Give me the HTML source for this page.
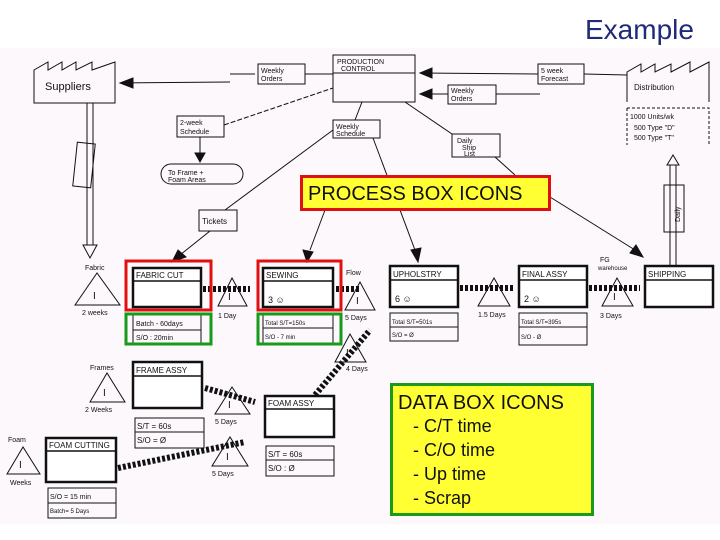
<!DOCTYPE html>
<html><head><meta charset="utf-8"><style>
html,body{margin:0;padding:0;background:#fff;}
svg{display:block}
text{font-family:"Liberation Sans",sans-serif;}
.h{font-family:"DejaVu Sans","Liberation Sans",sans-serif;font-size:9px;fill:#111}
</style></head><body>
<svg width="720" height="540" viewBox="0 0 720 540" xmlns="http://www.w3.org/2000/svg">
<rect width="720" height="540" fill="#fff"/>
<rect x="0" y="48" width="720" height="476" fill="#fcf8fc"/>
<text x="585" y="39" font-size="28" fill="#1f2a78">Example</text>
<g stroke="#111" fill="none" stroke-width="1">
<!-- suppliers -->
<path d="M34 103 V70 L48 62 V70 L62 62 V70 L76 62 V70 L92 62 V70 L115 62 V103 Z"/>
<!-- production control -->
<rect x="333" y="55" width="82" height="47"/><line x1="333" y1="73" x2="415" y2="73"/>
<rect x="258" y="64" width="47" height="20"/>
<rect x="538" y="64" width="46" height="20"/>
<rect x="448" y="85" width="48" height="19"/>
<!-- distribution -->
<path d="M627 102 V72 L641 64 V72 L655 64 V72 L671 64 V72 L690 62 V72 L709 62 V102"/>
<path d="M627 108 H709 V145" stroke-dasharray="3 2"/><line x1="627" y1="108" x2="627" y2="145" stroke-dasharray="3 2"/>
<rect x="177" y="116" width="47" height="21"/>
<rect x="333" y="120" width="47" height="18"/>
<rect x="452" y="134" width="48" height="23"/>
<rect x="161" y="164" width="82" height="20" rx="10"/>
<rect x="75" y="143" width="18" height="44" transform="rotate(6 84 165)"/>
<rect x="199" y="210" width="38" height="21"/>
<rect x="664" y="185" width="20" height="47"/>
<!-- arrows/lines -->
<line x1="305" y1="74" x2="333" y2="74"/><line x1="230" y1="74" x2="255" y2="74"/><line x1="120" y1="83" x2="230" y2="82"/>
<path d="M120 83 L133 78 V88 Z" fill="#111"/>
<line x1="420" y1="73" x2="538" y2="74"/><path d="M420 73 L432 68 V78 Z" fill="#111"/>
<line x1="584" y1="74" x2="627" y2="75"/>
<line x1="420" y1="94" x2="448" y2="94"/><path d="M420 94 L432 89 V99 Z" fill="#111"/>
<line x1="496" y1="94" x2="540" y2="94"/>
<line x1="224" y1="125" x2="333" y2="88" stroke-dasharray="5 2"/>
<line x1="200" y1="137" x2="200" y2="160"/><path d="M195 153 L205 153 L200 162 Z" fill="#111"/>
<line x1="355" y1="120" x2="362" y2="102"/>
<line x1="405" y1="102" x2="452" y2="134"/>
<line x1="333" y1="130" x2="225" y2="210"/>
<line x1="210" y1="231" x2="180" y2="255"/><path d="M172 262 L178 250 L186 257 Z" fill="#111"/>
<line x1="325" y1="210" x2="310" y2="250"/><path d="M307 262 L303 250 L313 252 Z" fill="#111"/>
<line x1="373" y1="138" x2="415" y2="250"/><path d="M418 262 L411 250 L421 248 Z" fill="#111"/>
<line x1="550" y1="197" x2="635" y2="250"/><path d="M643 257 L630 253 L636 245 Z" fill="#111"/>
<line x1="495" y1="157" x2="515" y2="175"/>
<path d="M87 103 V245 M93 103 V245 M83 245 L90 258 L97 245 Z"/>
<path d="M670 266 V185 M676 266 V185 M667 165 L673 155 L679 165 Z M670 165 V185 M676 165 V185"/>
<!-- triangles -->
<path d="M75 305 L97 273 L120 305 Z"/><path d="M218 306 L232 278 L247 306 Z"/>
<path d="M345 310 L360 282 L375 310 Z"/><path d="M478 306 L494 278 L510 306 Z"/>
<path d="M602 306 L617 278 L633 306 Z"/><path d="M335 362 L350 334 L366 362 Z"/>
<path d="M90 402 L107 373 L125 402 Z"/><path d="M7 474 L23 447 L40 474 Z"/>
<path d="M215 414 L232 387 L250 414 Z"/><path d="M212 466 L230 437 L248 466 Z"/>
<!-- data boxes -->
<rect x="133" y="315" width="68" height="30"/><line x1="133" y1="330" x2="201" y2="330"/>
<rect x="263" y="315" width="70" height="30"/><line x1="263" y1="328" x2="333" y2="328"/>
<rect x="390" y="313" width="68" height="28"/><line x1="390" y1="327" x2="458" y2="327"/>
<rect x="519" y="313" width="68" height="32"/><line x1="519" y1="327" x2="587" y2="327"/>
<rect x="135" y="418" width="69" height="30"/><line x1="135" y1="432" x2="204" y2="432"/>
<rect x="266" y="446" width="68" height="30"/><line x1="266" y1="460" x2="334" y2="460"/>
<rect x="48" y="488" width="68" height="30"/><line x1="48" y1="503" x2="116" y2="503"/>
</g>
<!-- push arrows (striped) -->
<g stroke="#111" stroke-width="6" stroke-dasharray="3 2" fill="none">
<line x1="203" y1="289" x2="250" y2="289"/><line x1="336" y1="289" x2="360" y2="289"/>
<line x1="460" y1="288" x2="515" y2="288"/><line x1="589" y1="288" x2="640" y2="288"/>
<line x1="205" y1="388" x2="255" y2="402"/><line x1="118" y1="468" x2="245" y2="442"/>
<line x1="315" y1="395" x2="370" y2="330"/>
</g>
<!-- process boxes -->
<g stroke="#111" stroke-width="2.5" fill="#fff">
<rect x="133" y="268" width="68" height="39"/><rect x="263" y="268" width="70" height="39"/>
<rect x="390" y="266" width="68" height="41"/><rect x="519" y="266" width="68" height="41"/>
<rect x="645" y="266" width="68" height="41"/><rect x="133" y="362" width="69" height="46"/>
<rect x="265" y="396" width="69" height="41"/><rect x="46" y="438" width="70" height="44"/>
</g>
<g stroke="#111" stroke-width="1.5">
<line x1="133" y1="281" x2="201" y2="281"/><line x1="263" y1="281" x2="333" y2="281"/>
<line x1="390" y1="280" x2="458" y2="280"/><line x1="519" y1="280" x2="587" y2="280"/>
<line x1="645" y1="280" x2="713" y2="280"/><line x1="133" y1="376" x2="202" y2="376"/>
<line x1="265" y1="409" x2="334" y2="409"/><line x1="46" y1="451" x2="116" y2="451"/>
</g>
<g class="h">
<text x="45" y="90" font-size="11">Suppliers</text>
<text x="337" y="64" font-size="7">PRODUCTION</text><text x="341" y="71" font-size="7">CONTROL</text>
<text x="261" y="73" font-size="7">Weekly</text><text x="261" y="81" font-size="7">Orders</text>
<text x="541" y="73" font-size="7">5 week</text><text x="541" y="81" font-size="7">Forecast</text>
<text x="451" y="93" font-size="7">Weekly</text><text x="451" y="101" font-size="7">Orders</text>
<text x="634" y="90" font-size="8">Distribution</text>
<text x="630" y="119" font-size="7">1000 Units/wk</text><text x="634" y="130" font-size="7">500 Type "D"</text><text x="634" y="140" font-size="7">500 Type "T"</text>
<text x="180" y="125" font-size="7">2-week</text><text x="180" y="134" font-size="7">Schedule</text>
<text x="336" y="129" font-size="7">Weekly</text><text x="336" y="136" font-size="7">Schedule</text>
<text x="457" y="143" font-size="7">Daily</text><text x="462" y="150" font-size="7">Ship</text><text x="464" y="156" font-size="7">List</text>
<text x="168" y="175" font-size="7">To Frame +</text><text x="168" y="182" font-size="7">Foam Areas</text>
<text x="202" y="224" font-size="8">Tickets</text>
<text x="136" y="278" font-size="8">FABRIC CUT</text><text x="266" y="278" font-size="8">SEWING</text>
<text x="393" y="277" font-size="8">UPHOLSTRY</text><text x="522" y="277" font-size="8">FINAL ASSY</text>
<text x="648" y="277" font-size="8">SHIPPING</text><text x="136" y="373" font-size="8">FRAME ASSY</text>
<text x="268" y="406" font-size="8">FOAM ASSY</text><text x="49" y="448" font-size="8">FOAM CUTTING</text>
<text x="268" y="303" font-size="9">3 ☺</text><text x="395" y="302" font-size="9">6 ☺</text><text x="524" y="302" font-size="9">2 ☺</text>
<text x="136" y="326" font-size="7">Batch - 60days</text><text x="136" y="340" font-size="7">S/O : 20min</text>
<text x="265" y="325" font-size="6">Total S/T=150s</text><text x="265" y="339" font-size="6">S/O - 7 min</text>
<text x="392" y="324" font-size="6">Total S/T=501s</text><text x="392" y="337" font-size="6">S/O = Ø</text>
<text x="521" y="324" font-size="6">Total S/T=395s</text><text x="521" y="339" font-size="6">S/O - Ø</text>
<text x="137" y="429" font-size="8">S/T = 60s</text><text x="137" y="443" font-size="8">S/O = Ø</text>
<text x="268" y="457" font-size="8">S/T = 60s</text><text x="268" y="471" font-size="8">S/O : Ø</text>
<text x="50" y="499" font-size="7">S/O = 15 min</text><text x="50" y="513" font-size="6">Batch= 5 Days</text>
<text x="85" y="270" font-size="7">Fabric</text><text x="82" y="315" font-size="7">2 weeks</text>
<text x="218" y="318" font-size="7">1 Day</text><text x="345" y="320" font-size="7">5 Days</text>
<text x="346" y="275" font-size="7">Flow</text><text x="478" y="317" font-size="7">1.5 Days</text>
<text x="600" y="318" font-size="7">3 Days</text><text x="600" y="262" font-size="7">FG</text><text x="598" y="270" font-size="6">warehouse</text>
<text x="346" y="371" font-size="7">4 Days</text><text x="90" y="370" font-size="7">Frames</text>
<text x="85" y="412" font-size="7">2 Weeks</text><text x="8" y="442" font-size="7">Foam</text>
<text x="10" y="485" font-size="7">Weeks</text><text x="215" y="424" font-size="7">5 Days</text>
<text x="212" y="476" font-size="7">5 Days</text>
<text x="93" y="299" font-size="10">I</text><text x="228" y="300" font-size="10">I</text><text x="356" y="304" font-size="10">I</text>
<text x="613" y="300" font-size="10">I</text><text x="346" y="356" font-size="10">I</text><text x="103" y="396" font-size="10">I</text>
<text x="19" y="468" font-size="10">I</text><text x="228" y="408" font-size="10">I</text><text x="226" y="460" font-size="10">I</text>
<text x="0" y="0" font-size="7" transform="translate(680 222) rotate(-90)">Daily</text>
</g>
<!-- red / green highlights -->
<g fill="none" stroke-width="3">
<rect x="126" y="261" width="85" height="49" stroke="#e01010"/>
<rect x="258" y="261" width="83" height="49" stroke="#e01010"/>
<rect x="126" y="314" width="85" height="30" stroke="#1a9a1a"/>
<rect x="258" y="314" width="83" height="30" stroke="#1a9a1a"/>
</g>
<rect x="301.5" y="176.5" width="248" height="33" fill="#ffff33" stroke="#e01010" stroke-width="3"/>
<text x="308" y="200" font-size="20" fill="#111">PROCESS BOX ICONS</text>
<rect x="391.5" y="384.5" width="201" height="130" fill="#ffff33" stroke="#1a9a1a" stroke-width="3"/>
<text x="398" y="409" font-size="20" fill="#111">DATA BOX ICONS</text>
<text x="413" y="432" font-size="18" fill="#111">- C/T time</text>
<text x="413" y="456" font-size="18" fill="#111">- C/O time</text>
<text x="413" y="480" font-size="18" fill="#111">- Up time</text>
<text x="413" y="504" font-size="18" fill="#111">- Scrap</text>
</svg>
</body></html>
